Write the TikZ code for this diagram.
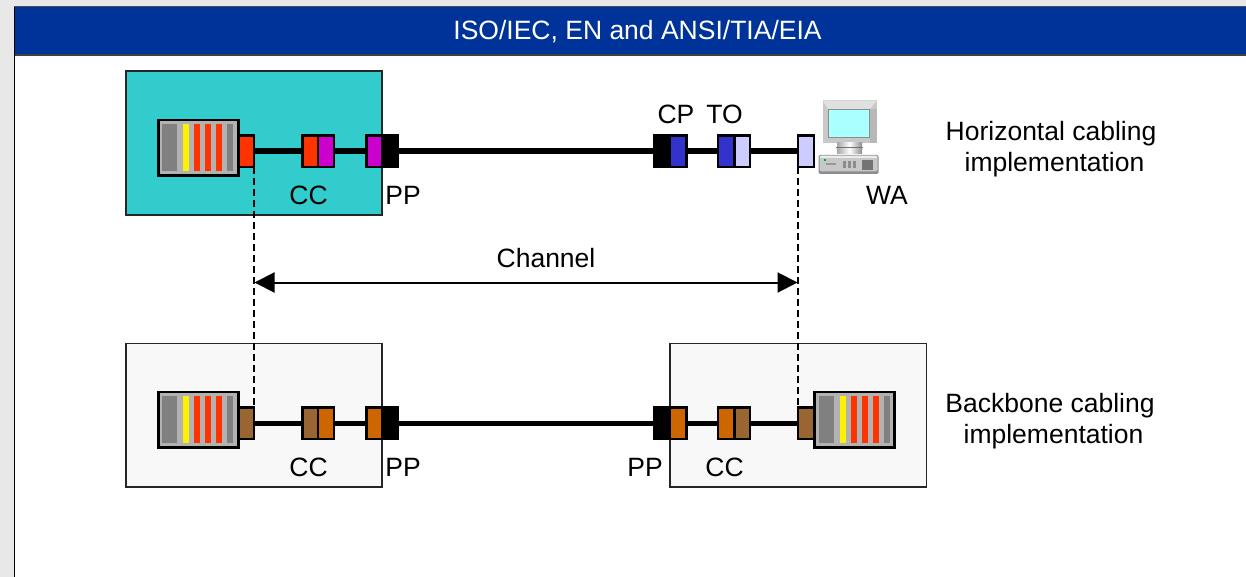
\documentclass[tikz,border=0pt]{standalone}
\usepackage{fontspec}
\setmainfont{Liberation Sans}
\usetikzlibrary{arrows.meta}
\definecolor{pagebg}{HTML}{E8E8E8}
\definecolor{headblue}{HTML}{003399}
\definecolor{teal}{HTML}{33CCCC}
\definecolor{boxgray}{HTML}{F8F8F8}
\definecolor{rackgray}{HTML}{B2B2B2}
\definecolor{stripegray}{HTML}{808080}
\definecolor{cred}{HTML}{FF3300}
\definecolor{cpurple}{HTML}{CC00CC}
\definecolor{cblue}{HTML}{3333CC}
\definecolor{clight}{HTML}{CCCCFF}
\definecolor{corange}{HTML}{CC6600}
\definecolor{cbrown}{HTML}{996633}
\definecolor{pcgray}{HTML}{C8C8C8}
\definecolor{pcdark}{HTML}{8C8C8C}
\definecolor{pcscreen}{HTML}{AAFFFF}
\tikzset{
  x=1pt,y=-1pt,
  plain/.style={inner sep=0pt,outer sep=0pt,rectangle},
  zone/.style={plain,draw=black!85,line width=1.6pt},
  conn/.style={plain,draw=black,line width=2.4pt},
  rackbody/.style={plain,draw=black,line width=2.4pt,fill=rackgray},
  stripe/.style={plain},
  cable/.style={draw=black,line width=5.5pt},
  dashline/.style={draw=black,line width=1.3pt,dash pattern=on 7pt off 4pt},
  dimline/.style={draw=black,line width=2pt,{Triangle[length=20pt,width=20pt]}-{Triangle[length=20pt,width=20pt]}},
  lbl/.style={inner sep=0pt,font=\fontsize{26.5}{31}\selectfont,align=center},
}
% \bx{name}{x0}{x1}{y0}{y1}{style}
\newcommand{\bx}[6]{\node[#6,minimum width={(#3-(#2))*1pt},minimum height={(#5-(#4))*1pt}] (#1) at ({(#2+#3)/2},{(#4+#5)/2}) {};}
% stripes of a rack whose stripes start at offset #1
\newcommand{\rackstripes}[4]{%
 \bx{#2a}{#1+0}{#1+14.5}{#3}{#4}{stripe,fill=stripegray}
 \bx{#2b}{#1+21}{#1+27}{#3}{#4}{stripe,fill=yellow}
 \bx{#2c}{#1+32}{#1+38}{#3}{#4}{stripe,fill=cred}
 \bx{#2d}{#1+43}{#1+49}{#3}{#4}{stripe,fill=cred}
 \bx{#2e}{#1+54}{#1+60}{#3}{#4}{stripe,fill=cred}
 \bx{#2f}{#1+65}{#1+71}{#3}{#4}{stripe,fill=stripegray}}
\begin{document}
\begin{tikzpicture}
\useasboundingbox (0,0) rectangle (1246,577);
% page
\fill[pagebg] (0,0) rectangle (1246,577);
\fill[white] (14,7) rectangle (1246,577);
\fill[headblue] (14,7) rectangle (1246,55);
\fill[black!70] (14,6) rectangle (1246,7.5);
\fill[black!75] (14,54.2) rectangle (1246,56);
\fill[black] (13.6,7) rectangle (15,577);
\node[lbl,text=white] (title) at (637.5,32) {ISO/IEC, EN and ANSI/TIA/EIA};
% zones
\bx{zoneH}{126}{382}{71.2}{215}{zone,fill=teal}
\bx{zoneBL}{126}{382}{343.6}{487}{zone,fill=boxgray}
\bx{zoneBR}{670}{926.4}{343.6}{487}{zone,fill=boxgray}
% upper row
\bx{rackH}{158.5}{238.5}{120}{175.5}{rackbody}
\rackstripes{162}{sH}{124}{171}
\bx{eqH}{238.5}{254}{135.5}{167}{conn,fill=cred}
\bx{ccHa}{302.5}{318}{135.5}{167}{conn,fill=cred}
\bx{ccHb}{318}{334}{135.5}{167}{conn,fill=cpurple}
\bx{ppHa}{366.5}{382}{135.5}{167}{conn,fill=cpurple}
\bx{ppHb}{382}{398}{135.5}{167}{conn,fill=black}
\bx{cpHa}{654}{670}{135.5}{167}{conn,fill=black}
\bx{cpHb}{670}{686.5}{135.5}{167}{conn,fill=cblue}
\bx{toHa}{718}{734.3}{135.5}{167}{conn,fill=cblue}
\bx{toHb}{734.3}{750}{135.5}{167}{conn,fill=clight}
\bx{waH}{798}{814}{135.5}{167}{conn,fill=clight}
\draw[cable] (eqH.east) -- (ccHa.west);
\draw[cable] (ccHb.east) -- (ppHa.west);
\draw[cable] (ppHb.east) -- (cpHa.west);
\draw[cable] (cpHb.east) -- (toHa.west);
\draw[cable] (toHb.east) -- (waH.west);
% lower row
\bx{rackL}{158.5}{238.5}{391.8}{447.3}{rackbody}
\rackstripes{162}{sL}{396}{443}
\bx{eqL}{238.5}{254}{407.5}{439}{conn,fill=cbrown}
\bx{ccLa}{302.5}{318}{407.5}{439}{conn,fill=cbrown}
\bx{ccLb}{318}{334}{407.5}{439}{conn,fill=corange}
\bx{ppLa}{366.5}{382}{407.5}{439}{conn,fill=corange}
\bx{ppLb}{382}{398}{407.5}{439}{conn,fill=black}
\bx{ppRa}{654}{670}{407.5}{439}{conn,fill=black}
\bx{ppRb}{670}{686.5}{407.5}{439}{conn,fill=corange}
\bx{ccRa}{718}{734.3}{407.5}{439}{conn,fill=corange}
\bx{ccRb}{734.3}{750}{407.5}{439}{conn,fill=cbrown}
\bx{eqR}{798}{814.5}{407.5}{439}{conn,fill=cbrown}
\bx{rackR}{814.5}{894.5}{391.8}{447.3}{rackbody}
\rackstripes{819}{sR}{396}{443}
\draw[cable] (eqL.east) -- (ccLa.west);
\draw[cable] (ccLb.east) -- (ppLa.west);
\draw[cable] (ppLb.east) -- (ppRa.west);
\draw[cable] (ppRb.east) -- (ccRa.west);
\draw[cable] (ccRb.east) -- (eqR.west);
% dashed
\draw[dashline] (eqH.south east) -- (eqL.north east);
\draw[dashline] (waH.south west) -- (eqR.north west);
% channel arrow
\coordinate (chL) at (254.5,282.5);
\coordinate (chR) at (797.5,282.5);
\draw[dimline] (chL) -- (chR);
% labels
\node[lbl] (lCC1) at (308.5,195) {CC};
\node[lbl] (lPP1) at (403,195) {PP};
\node[lbl] (lCP) at (676,114) {CP};
\node[lbl] (lTO) at (724.5,114) {TO};
\node[lbl] (lWA) at (887,195) {WA};
\node[lbl] (lCh) at (546,258) {Channel};
\node[lbl] (lCC2) at (308.5,467) {CC};
\node[lbl] (lPP2) at (403,467) {PP};
\node[lbl] (lPP3) at (645,467) {PP};
\node[lbl] (lCC3) at (724.5,467) {CC};
\node[lbl] (lHor) at (1051,149.5) {Horizontal cabling\\\hspace*{7pt}implementation};
\node[lbl] (lBack) at (1050,421.5) {Backbone cabling\\\hspace*{7pt}implementation};
% workstation
\fill[pcgray] (822.5,100.5) rectangle (877,143);
\fill[black!12] (822.5,100.5) -- (877,100.5) -- (870,109) -- (828,109) -- cycle;
\fill[black!28] (869.5,109) rectangle (877,143);
\fill[pcdark] (828,109) rectangle (870,138);
\fill[pcscreen] (829,110.5) rectangle (869,137);
\shade[left color=black!35,right color=black!45,middle color=white] (837,143) rectangle (862,154);
\fill[black!55] (836,147) rectangle (863,148);
\fill[pcdark,rounded corners=2pt] (818.5,155) rectangle (878.5,174);
\fill[pcgray,rounded corners=1.5pt] (819.5,155.5) rectangle (877.5,171.5);
\fill[black!8] (820,156) rectangle (877,158);
\fill[green!70!black] (824,159.5) rectangle (826,161.5);
\fill[black!40] (826,163) rectangle (836,165);
\foreach \px in {843,848,853}{\fill[black!45] (\px,161) rectangle (\px+2.5,168);}
\fill[black!55] (862,160) rectangle (873,170);
\end{tikzpicture}
\end{document}
